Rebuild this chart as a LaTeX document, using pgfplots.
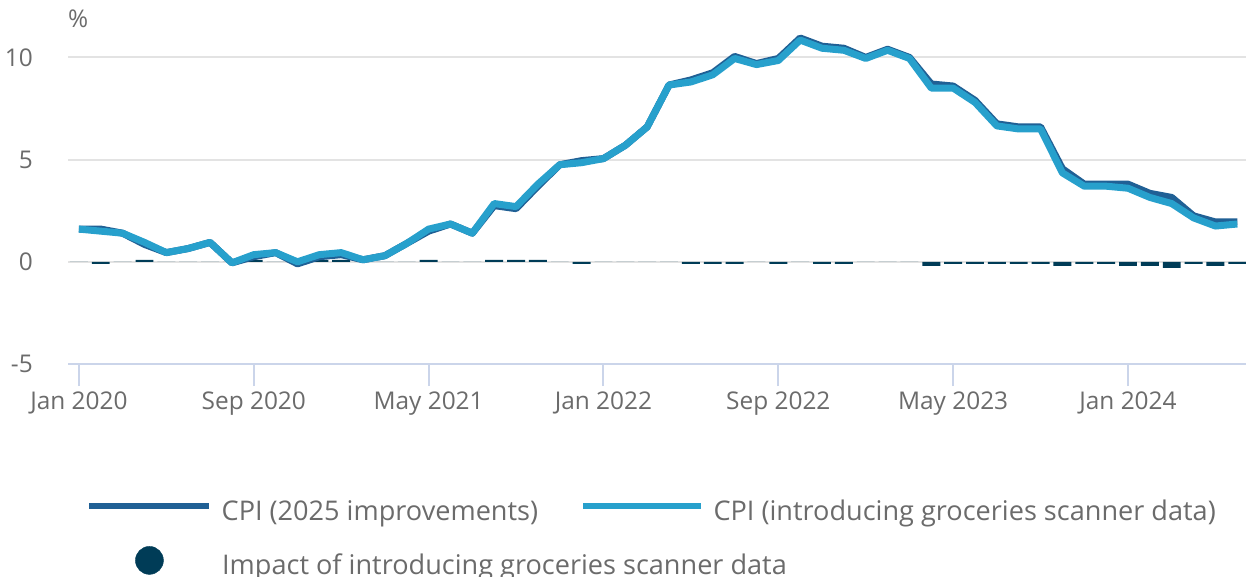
\documentclass[border=0pt]{standalone}
\usepackage{pgfplots}
\pgfplotsset{compat=1.18}
\usepackage{pgfplotstable}
\usepackage{fontspec}
\setmainfont{Open Sans}
\definecolor{darkb}{HTML}{206095}
\definecolor{lightb}{HTML}{27A0CC}
\definecolor{ocean}{HTML}{003C57}
\definecolor{gridc}{HTML}{E3E3E3}
\definecolor{axisc}{HTML}{CBD5EA}
\definecolor{txt}{HTML}{6B6B6B}

\pgfplotstableread{
i L D I
0 1.60 1.60 0
1 1.50 1.60 -0.1
2 1.40 1.40 0
3 0.95 0.85 0.1
4 0.45 0.45 0
5 0.65 0.65 0
6 0.95 0.95 0
7 -0.05 -0.05 0
8 0.35 0.25 0.1
9 0.45 0.45 0
10 0.00 -0.10 0.1
11 0.35 0.25 0.1
12 0.45 0.35 0.1
13 0.10 0.10 0
14 0.30 0.30 0
15 0.90 0.90 0
16 1.60 1.50 0.1
17 1.85 1.85 0
18 1.40 1.40 0
19 2.85 2.75 0.1
20 2.70 2.60 0.1
21 3.80 3.70 0.1
22 4.75 4.75 0
23 4.85 4.95 -0.1
24 5.05 5.05 0
25 5.70 5.70 0
26 6.60 6.60 0
27 8.65 8.65 0
28 8.80 8.90 -0.1
29 9.15 9.25 -0.1
30 9.95 10.05 -0.1
31 9.65 9.70 0
32 9.85 9.95 -0.1
33 10.85 10.95 0
34 10.45 10.55 -0.1
35 10.35 10.45 -0.1
36 9.95 10.00 0
37 10.35 10.40 0
38 9.95 10.00 0
39 8.50 8.70 -0.2
40 8.50 8.60 -0.1
41 7.80 7.90 -0.1
42 6.65 6.75 -0.1
43 6.50 6.60 -0.1
44 6.50 6.60 -0.1
45 4.35 4.55 -0.2
46 3.70 3.80 -0.1
47 3.70 3.80 -0.1
48 3.60 3.80 -0.2
49 3.15 3.35 -0.2
50 2.85 3.15 -0.3
51 2.15 2.25 -0.1
52 1.75 1.95 -0.2
53 1.85 1.95 -0.1
}\data

\begin{document}
\begin{tikzpicture}
\useasboundingbox (0,0) rectangle (1246bp,577bp);
\begin{axis}[
  at={(68bp,213bp)}, anchor=south west,
  scale only axis, width=1178bp, height=327bp,
  xmin=-0.5, xmax=53.4, ymin=-5, ymax=11,
  clip=false,
  axis x line=bottom, axis y line=left,
  x axis line style={draw=axisc, line width=2bp, -},
  y axis line style={draw=none, -},
  xtick={0,8,16,24,32,40,48},
  xticklabels={Jan 2020,Sep 2020,May 2021,Jan 2022,Sep 2022,May 2023,Jan 2024},
  ytick={-5,0,5,10},
  yticklabels={-5,0,5,10},
  tick align=outside,
  major tick length=22bp,
  xtick style={draw=axisc, line width=2bp},
  ytick style={draw=none},
  ymajorgrids,
  grid style={draw=gridc, line width=2bp},
  every tick label/.append style={font=\fontsize{24.5}{29}\selectfont, text=txt},
  yticklabel style={anchor=east, inner sep=0pt, xshift=-13bp},
  xticklabel style={anchor=north, inner sep=0pt, yshift=-6bp},
  legend style={
    at={(0,0)}, anchor=north west, xshift=15bp, yshift=-134bp,
    draw=none, fill=none,
    font=\fontsize{27.2}{32}\selectfont, text=txt,
    nodes={inner sep=0pt, text height=20bp, text depth=6bp},
    column sep=9bp, row sep=20bp,
    /tikz/every even column/.append style={column sep=42bp},
  },
  legend columns=2,
  legend cell align=left,
]
\addplot[ybar, bar width=0.82, fill=ocean, draw=none, forget plot] table[x=i, y=I] {\data};
\addplot[darkb, line width=7bp, line join=round, forget plot] table[x=i, y=D] {\data};
\addplot[lightb, line width=7bp, line join=round, forget plot] table[x=i, y=L] {\data};
\addlegendimage{legend image code/.code={\draw[darkb, line width=6.5bp] (0bp,7bp) -- (120bp,7bp);}}
\addlegendentry{CPI (2025 improvements)}
\addlegendimage{legend image code/.code={\draw[lightb, line width=6.5bp] (0bp,7bp) -- (118bp,7bp);}}
\addlegendentry{CPI (introducing groceries scanner data)}
\addlegendimage{legend image code/.code={\fill[ocean] (60bp,7bp) circle (14bp); \path[draw=none] (0bp,7bp) -- (120bp,7bp);}}
\addlegendentry{\makebox[0pt][l]{Impact of introducing groceries scanner data}}
\node[anchor=west, inner sep=0pt, text=txt, font=\fontsize{24.5}{29}\selectfont] at (rel axis cs:0,1) [yshift=18bp] {\%};
\end{axis}
\end{tikzpicture}
\end{document}
